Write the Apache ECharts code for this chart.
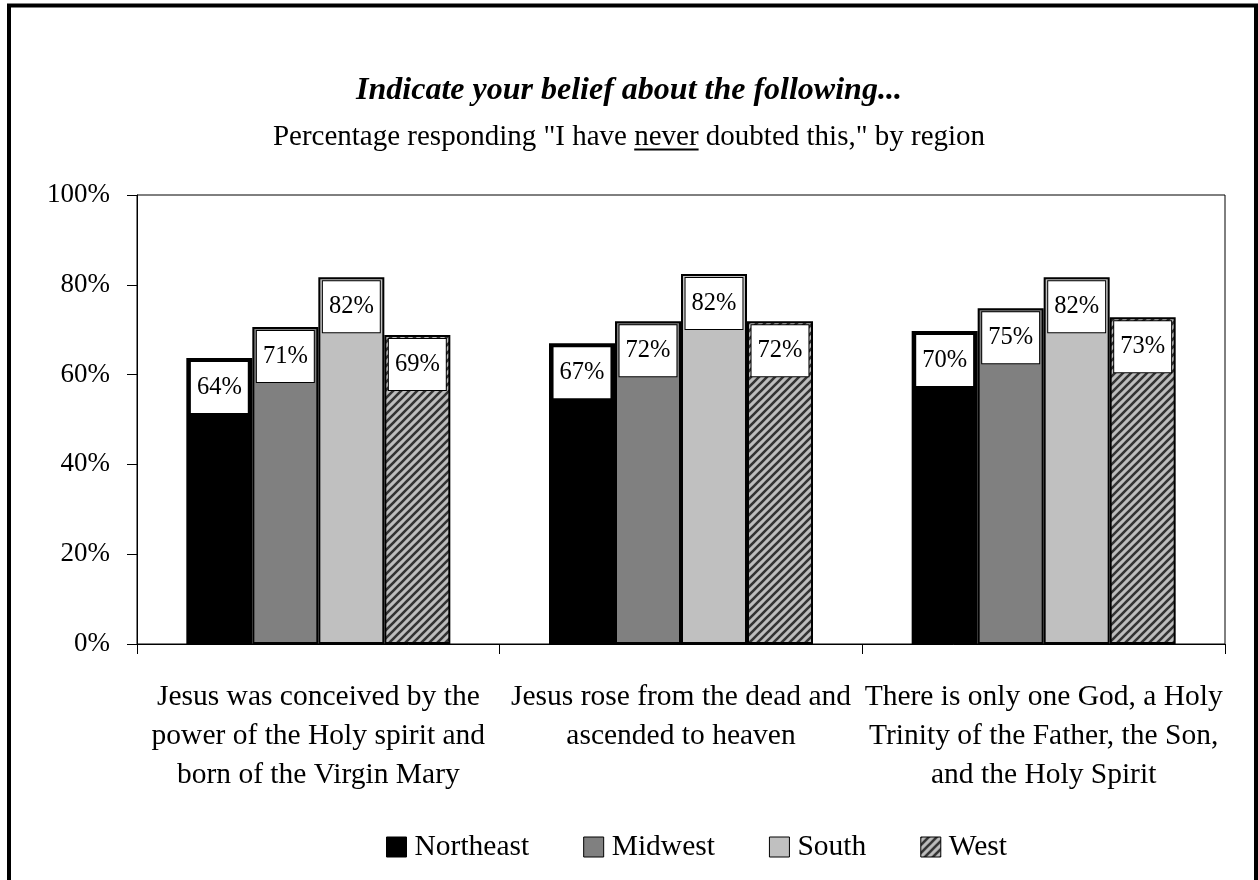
<!DOCTYPE html>
<html>
<head>
<meta charset="utf-8">
<script src="https://cdn.jsdelivr.net/npm/echarts@6/dist/echarts.min.js"></script>
<style>
html,body{margin:0;padding:0;background:#fff;}
#chart{width:1258px;height:880px;}
</style>
</head>
<body>
<div id="chart"></div>
<script>
const categories = [
  "Jesus was conceived by the\npower of the Holy spirit and\nborn of the Virgin Mary",
  "Jesus rose from the dead and\nascended to heaven",
  "There is only one God, a Holy\nTrinity of the Father, the Son,\nand the Holy Spirit"
];
const seriesNames = ["Northeast", "Midwest", "South", "West"];
const northeast = [63.7, 67.0, 69.7];
const midwest = [70.6, 71.9, 74.8];
const south = [81.7, 82.4, 81.7];
const west = [68.8, 71.9, 72.8];
const yMin = 0, yMax = 100, yInterval = 20;

const titleText = "Indicate your belief about the following...";
const subPrefix = "Percentage responding \"I have ";
const subUnder = "never";
const subSuffix = " doubted this,\" by region";

const FONT = "'Liberation Serif', 'Times New Roman', serif";

// hatch pattern for West
const pat = document.createElement('canvas');
pat.width = 8; pat.height = 8;
(function(){
  const c = pat.getContext('2d');
  c.fillStyle = '#bdbdbd';
  c.fillRect(0,0,8,8);
  c.strokeStyle = '#333333';
  c.lineWidth = 2.6;
  c.beginPath();
  c.moveTo(-4,4); c.lineTo(4,-4);
  c.moveTo(0,8); c.lineTo(8,0);
  c.moveTo(4,12); c.lineTo(12,4);
  c.stroke();
})();

const colors = ['#000000', '#808080', '#c0c0c0', {image: pat, repeat: 'repeat'}];
const dataSets = [northeast, midwest, south, west];

// measure subtitle for underline
const mc = document.createElement('canvas').getContext('2d');
const subSize = 29;
mc.font = subSize + "px 'Liberation Serif'";
const wPre = mc.measureText(subPrefix).width;
const wUnd = mc.measureText(subUnder).width;
const wAll = mc.measureText(subPrefix + subUnder + subSuffix).width;
const subX = 629, subY = 137;
const ux0 = subX - wAll / 2 + wPre;

const chart = echarts.init(document.getElementById('chart'), null, {renderer: 'canvas'});
chart.setOption({
  animation: false,
  backgroundColor: '#fff',
  textStyle: {fontFamily: FONT, color: '#000'},
  grid: {left: 137, right: 33, top: 195, bottom: 236, show: true, borderColor: '#000', borderWidth: 1, backgroundColor: 'transparent'},
  graphic: [
    {type: 'rect', shape: {x: 9, y: 5.5, width: 1247, height: 900}, style: {fill: 'none', stroke: '#000', lineWidth: 4}, silent: true, z: 100},
    {type: 'text', x: 629, y: 91, style: {text: titleText, font: "italic bold 32px 'Liberation Serif'", fill: '#000', textAlign: 'center', textVerticalAlign: 'middle'}},
    {type: 'text', x: subX, y: subY, style: {text: subPrefix + subUnder + subSuffix, font: subSize + "px 'Liberation Serif'", fill: '#000', textAlign: 'center', textVerticalAlign: 'middle'}},
    {type: 'line', shape: {x1: ux0, y1: subY + 12.5, x2: ux0 + wUnd, y2: subY + 12.5}, style: {stroke: '#000', lineWidth: 2}}
  ],
  legend: {
    top: 832,
    left: 386,
    padding: 0,
    itemWidth: 20,
    itemHeight: 20,
    itemGap: 54,
    textStyle: {fontFamily: FONT, fontSize: 29.5, color: '#000', padding: [0,0,0,3]},
    data: seriesNames.map(n => ({name: n, icon: 'rect'})),
    itemStyle: {borderColor: '#000', borderWidth: 1}
  },
  xAxis: {
    type: 'category',
    data: categories,
    axisLine: {show: true, lineStyle: {color: '#000', width: 1}},
    axisTick: {show: true, length: 10, interval: 0, alignWithLabel: false, lineStyle: {color: '#000'}},
    axisLabel: {interval: 0, margin: 34, fontFamily: FONT, fontSize: 29.5, lineHeight: 39, color: '#000', align: 'center'},
    splitLine: {show: false}
  },
  yAxis: {
    type: 'value',
    min: yMin, max: yMax, interval: yInterval,
    axisLine: {show: true, lineStyle: {color: '#000', width: 1}},
    axisTick: {show: true, length: 10, lineStyle: {color: '#000'}},
    axisLabel: {formatter: '{value}%', margin: 27, fontFamily: FONT, fontSize: 27, color: '#000'},
    splitLine: {show: false}
  },
  series: dataSets.map((d, i) => ({
    name: seriesNames[i],
    type: 'bar',
    data: d,
    barWidth: 66,
    barGap: '0%',
    itemStyle: {color: colors[i], borderColor: '#000', borderWidth: 2},
    label: {
      show: true,
      position: 'insideTop',
      distance: 4,
      formatter: p => Math.round(p.value) + '%',
      fontFamily: FONT,
      fontSize: 24.5,
      lineHeight: 25,
      color: '#000',
      backgroundColor: '#fff',
      borderColor: '#000',
      borderWidth: 1,
      padding: [13, 6]
    }
  }))
});
</script>
</body>
</html>
